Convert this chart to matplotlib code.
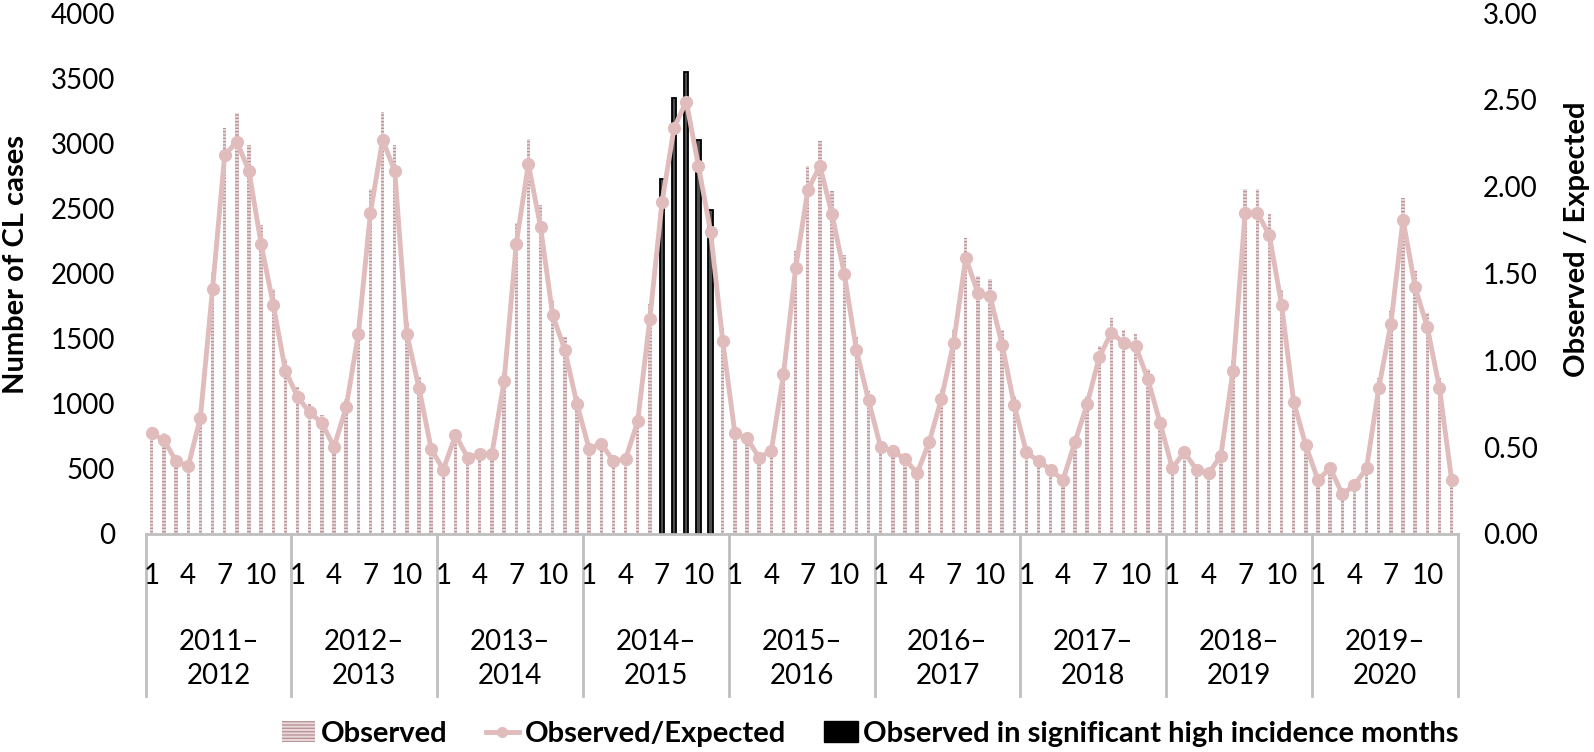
import numpy as np
import matplotlib
matplotlib.use("Agg")
import matplotlib.pyplot as plt
from matplotlib.patches import Patch
from matplotlib.lines import Line2D
from matplotlib.transforms import blended_transform_factory

plt.rcParams['font.family'] = ['Lato', 'DejaVu Sans']
plt.rcParams['hatch.linewidth'] = 1.0

# season labels (months numbered 1..12 within each season)
seasons = ['2011–\n2012', '2012–\n2013', '2013–\n2014', '2014–\n2015', '2015–\n2016',
           '2016–\n2017', '2017–\n2018', '2018–\n2019', '2019–\n2020']
month_ticks = [1, 4, 7, 10]

# observed CL cases, one list per season
obs_2011 = [820, 775, 590, 550, 920, 2010, 3115, 3235, 2985, 2370, 1880, 1345]
obs_2012 = [1125, 1000, 915, 705, 1035, 1645, 2645, 3240, 2985, 1630, 1205, 680]
obs_2013 = [510, 805, 615, 640, 640, 1245, 2390, 3035, 2525, 1790, 1515, 1060]
obs_2014 = [690, 730, 590, 600, 925, 1765, 2725, 3345, 3550, 3025, 2485, 1580]
obs_2015 = [805, 770, 615, 680, 1305, 2175, 2825, 3020, 2630, 2140, 1510, 1095]
obs_2016 = [705, 680, 600, 500, 750, 1115, 1575, 2270, 1980, 1960, 1570, 1060]
obs_2017 = [665, 600, 525, 450, 740, 1060, 1445, 1655, 1570, 1535, 1270, 895]
obs_2018 = [550, 665, 515, 500, 640, 1330, 2650, 2645, 2455, 1875, 1075, 705]
obs_2019 = [445, 540, 325, 400, 540, 1200, 1715, 2580, 2020, 1695, 1195, 445]

# observed / expected ratio
oe_2011 = [0.58, 0.54, 0.42, 0.39, 0.67, 1.41, 2.18, 2.26, 2.09, 1.67, 1.32, 0.94]
oe_2012 = [0.79, 0.70, 0.64, 0.50, 0.73, 1.15, 1.85, 2.27, 2.09, 1.15, 0.84, 0.49]
oe_2013 = [0.37, 0.57, 0.44, 0.46, 0.46, 0.88, 1.67, 2.13, 1.77, 1.26, 1.06, 0.75]
oe_2014 = [0.49, 0.52, 0.42, 0.43, 0.65, 1.24, 1.91, 2.34, 2.49, 2.12, 1.74, 1.11]
oe_2015 = [0.58, 0.55, 0.44, 0.48, 0.92, 1.53, 1.98, 2.12, 1.84, 1.50, 1.06, 0.77]
oe_2016 = [0.50, 0.48, 0.43, 0.35, 0.53, 0.78, 1.10, 1.59, 1.39, 1.37, 1.09, 0.74]
oe_2017 = [0.47, 0.42, 0.37, 0.31, 0.53, 0.75, 1.02, 1.16, 1.10, 1.08, 0.89, 0.64]
oe_2018 = [0.38, 0.47, 0.37, 0.35, 0.45, 0.94, 1.85, 1.85, 1.72, 1.32, 0.76, 0.51]
oe_2019 = [0.31, 0.38, 0.23, 0.28, 0.38, 0.84, 1.21, 1.81, 1.42, 1.19, 0.84, 0.31]

# significant high incidence months: (season index, month)
high_months = [(3, 7), (3, 8), (3, 9), (3, 10), (3, 11)]

observed = np.array(obs_2011 + obs_2012 + obs_2013 + obs_2014 + obs_2015 +
                    obs_2016 + obs_2017 + obs_2018 + obs_2019, dtype=float)
ratio = np.array(oe_2011 + oe_2012 + oe_2013 + oe_2014 + oe_2015 +
                 oe_2016 + oe_2017 + oe_2018 + oe_2019)

x = np.arange(len(observed))
high_idx = [s * 12 + m - 1 for s, m in high_months]
normal_idx = [i for i in x if i not in high_idx]

BAR_FACE = '#ead8d9'
BAR_HATCH = '#b8959a'
LINE_C = '#e0bcbc'
GRID_C = '#bfbfbf'

fig = plt.figure(figsize=(15.94, 7.52), dpi=100)
ax = fig.add_axes([145.7 / 1594, 1 - 534 / 752, (1457.7 - 145.7) / 1594, (534 - 13) / 752])
ax2 = ax.twinx()

ax.bar(x[normal_idx], observed[normal_idx], width=0.28, facecolor=BAR_FACE,
       edgecolor=BAR_HATCH, linewidth=0, hatch='-----', zorder=2)
ax.bar(x[high_idx], observed[high_idx], width=0.36, facecolor='#4d4d4d',
       edgecolor='black', linewidth=1.3, zorder=2)

ax2.plot(x, ratio, color=LINE_C, lw=3.5, marker='o', markersize=9.5,
         markeredgewidth=0, zorder=3)

ax.set_xlim(-0.5, len(x) - 0.5)
ax.set_ylim(0, 4000)
ax.set_yticks(np.arange(0, 4001, 500))
ax2.set_ylim(0, 3)
ax2.set_yticks(np.arange(0, 3.01, 0.5))
ax2.set_yticklabels([f'{v:.2f}' for v in np.arange(0, 3.01, 0.5)])

for a in (ax, ax2):
    for s in a.spines.values():
        s.set_visible(False)
    a.tick_params(axis='y', length=0, labelsize=20, colors='black')
ax.tick_params(axis='y', pad=22)
ax2.tick_params(axis='y', pad=18)
ax.spines['bottom'].set_visible(True)
ax.spines['bottom'].set_color(GRID_C)
ax.spines['bottom'].set_linewidth(2)

# month ticks within each season
tick_pos = [s * 12 + m - 1 for s in range(len(seasons)) for m in month_ticks]
tick_lab = [str(m) for s in range(len(seasons)) for m in month_ticks]
ax.set_xticks(tick_pos)
ax.set_xticklabels(tick_lab)
ax.tick_params(axis='x', length=0, labelsize=20, pad=21)

trans = blended_transform_factory(ax.transData, ax.transAxes)
for s in range(len(seasons) + 1):
    ax.plot([s * 12 - 0.5] * 2, [0, -0.31], transform=trans, color=GRID_C,
            lw=2, clip_on=False, zorder=1)
for s, lab in enumerate(seasons):
    ax.text(s * 12 + 5.5, -0.24, lab, transform=trans, ha='center', va='center',
            fontsize=20, linespacing=1.35)

fig.text(16 / 1594, 1 - 264 / 752, 'Number of CL cases', rotation=90, ha='center',
         va='center', fontsize=21, fontweight='bold')
fig.text(1577 / 1594, 1 - 239 / 752, 'Observed / Expected', rotation=90, ha='center',
         va='center', fontsize=21, fontweight='bold')

handles = [
    Patch(facecolor=BAR_FACE, edgecolor=BAR_HATCH, linewidth=0, hatch='-----'),
    Line2D([0], [0], color=LINE_C, lw=3.5, marker='o', markersize=8, markeredgewidth=0),
    Patch(facecolor='black', edgecolor='black'),
]
labels = ['Observed', 'Observed/Expected', 'Observed in significant high incidence months']
fig.legend(handles, labels, loc='center', bbox_to_anchor=(0.546, 0.024), ncol=3,
           frameon=False, prop={'weight': 'bold', 'size': 21}, handlelength=1.15,
           handleheight=0.75, handletextpad=0.2, columnspacing=1.3)

fig.savefig('out.png', dpi=100)
